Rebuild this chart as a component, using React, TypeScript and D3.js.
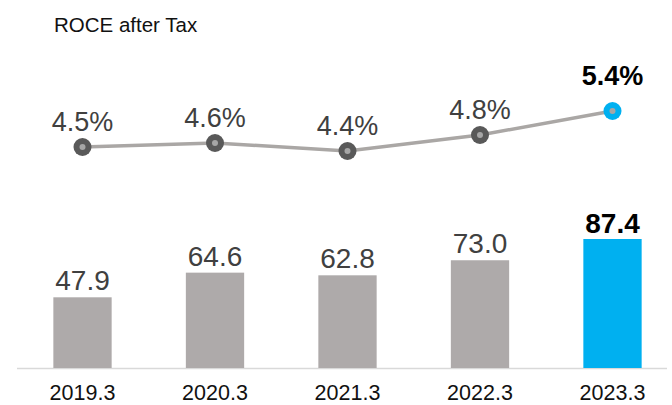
import { useEffect, useRef } from "react";
import * as d3 from "d3";

const categories = ["2019.3", "2020.3", "2021.3", "2022.3", "2023.3"];
const capital = [47.9, 64.6, 62.8, 73.0, 87.4];
const roce = [4.5, 4.6, 4.4, 4.8, 5.4];

const GRAY = "#aeaaaa";
const BLUE = "#00b0f0";

export default function App() {
  const svgRef = useRef<SVGSVGElement>(null);

  useEffect(() => {
    if (!svgRef.current) return;
    const svg = d3.select(svgRef.current);
    svg.selectAll("*").remove();

    const width = 672;
    const baseY = 368;
    const last = categories.length - 1;

    const x = d3.scaleBand<string>().domain(categories).range([16.25, 678.75]).padding(0);
    const bw = x.bandwidth() * 0.44;
    const cx = (c: string) => (x(c) ?? 0) + x.bandwidth() / 2;

    // bars: ~1.477 px per unit
    const yBar = d3.scaleLinear().domain([0, 87.4]).range([baseY, 239]);
    // line: own scale in the upper band
    const yLine = d3.scaleLinear().domain([4.4, 5.4]).range([151, 111]);

    const font = "Arial, 'Liberation Sans', sans-serif";

    // title
    svg.append("text")
      .attr("x", 54)
      .attr("y", 32)
      .attr("font-family", font)
      .attr("font-size", 20.5)
      .attr("fill", "#111")
      .text("ROCE after Tax");

    // baseline
    svg.append("line")
      .attr("x1", 17)
      .attr("x2", width - 5)
      .attr("y1", baseY + 0.5)
      .attr("y2", baseY + 0.5)
      .attr("stroke", "#d9d9d9")
      .attr("stroke-width", 1.5);

    // bars
    svg.selectAll("rect.bar")
      .data(capital)
      .enter()
      .append("rect")
      .attr("class", "bar")
      .attr("x", (_, i) => cx(categories[i]) - bw / 2)
      .attr("y", (d) => yBar(d))
      .attr("width", bw)
      .attr("height", (d) => baseY - yBar(d))
      .attr("fill", (_, i) => (i === last ? BLUE : GRAY));

    // bar labels
    svg.selectAll("text.barlabel")
      .data(capital)
      .enter()
      .append("text")
      .attr("class", "barlabel")
      .attr("x", (_, i) => cx(categories[i]))
      .attr("y", (d, i) => yBar(d) - (i === last ? 6 : 7))
      .attr("text-anchor", "middle")
      .attr("font-family", font)
      .attr("font-size", 28)
      .attr("font-weight", (_, i) => (i === last ? "bold" : "normal"))
      .attr("fill", (_, i) => (i === last ? "#000" : "#404040"))
      .text((d) => d.toFixed(1));

    // category labels
    svg.selectAll("text.cat")
      .data(categories)
      .enter()
      .append("text")
      .attr("class", "cat")
      .attr("x", (d) => cx(d))
      .attr("y", 399.5)
      .attr("text-anchor", "middle")
      .attr("font-family", font)
      .attr("font-size", 21.5)
      .attr("fill", "#111")
      .text((d) => d);

    // line
    const line = d3
      .line<number>()
      .x((_, i) => cx(categories[i]))
      .y((d) => yLine(d));

    svg.append("path")
      .datum(roce)
      .attr("fill", "none")
      .attr("stroke", "#aaa7a5")
      .attr("stroke-width", 3.5)
      .attr("d", line);

    // markers
    const m = svg.selectAll("g.marker")
      .data(roce)
      .enter()
      .append("g")
      .attr("class", "marker")
      .attr("transform", (d, i) => `translate(${cx(categories[i])},${yLine(d)})`);
    m.append("circle")
      .attr("r", 9)
      .attr("fill", (_, i) => (i === last ? BLUE : "#595959"));
    m.append("circle")
      .attr("r", 3)
      .attr("fill", "#a6a6a6");

    // line labels
    svg.selectAll("text.linelabel")
      .data(roce)
      .enter()
      .append("text")
      .attr("class", "linelabel")
      .attr("x", (_, i) => cx(categories[i]))
      .attr("y", (d, i) => yLine(d) - (i === last ? 26 : 16))
      .attr("text-anchor", "middle")
      .attr("font-family", font)
      .attr("font-size", 27)
      .attr("font-weight", (_, i) => (i === last ? "bold" : "normal"))
      .attr("fill", (_, i) => (i === last ? "#000" : "#404040"))
      .text((d) => `${d.toFixed(1)}%`);
  }, []);

  return (
    <svg
      ref={svgRef}
      width={672}
      height={405}
      viewBox="0 0 672 405"
      style={{ position: "absolute", left: 0, top: 0, background: "#fff" }}
    ></svg>
  );
}
